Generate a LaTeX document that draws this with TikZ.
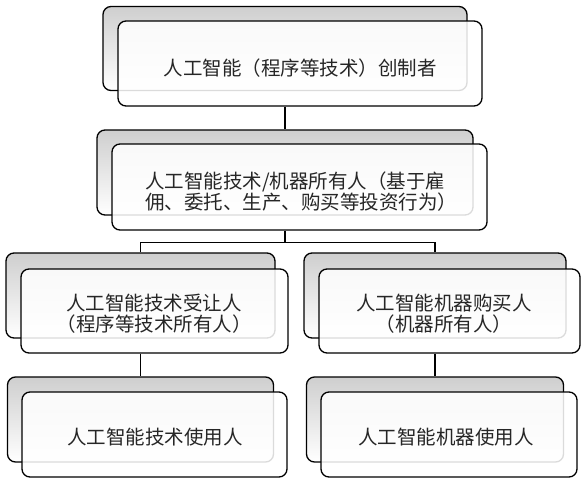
\documentclass[tikz,border=0pt]{standalone}
\usepackage{fontspec}
\setmainfont{Noto Sans CJK SC}
\begin{document}
\begin{tikzpicture}[x=1pt,y=-1pt,
  backbox/.style={draw=black, line width=1.3pt, rounded corners=8pt, top color=gray!38, bottom color=white, inner sep=0pt},
  frontbox/.style={draw=black, line width=1.3pt, rounded corners=8pt, fill=white, fill opacity=0.86, inner sep=0pt},
  lbl/.style={font=\fontsize{19.5}{21.5}\selectfont, text=black!85, align=center, inner sep=0pt},
  conn/.style={draw=black, line width=1.3pt}]
\useasboundingbox (0,0) rectangle (581,485);
% level 1
\node[backbox, minimum width=364pt, minimum height=84pt] (t0b) at (285,48.5) {};
\node[frontbox, minimum width=364pt, minimum height=85pt] (t0f) at (300,63.5) {};
\node[lbl] (t0t) at (300,68) {人工智能（程序等技术）创制者};
% level 2
\node[backbox, minimum width=376pt, minimum height=85pt] (l2b) at (285,172.5) {};
\node[frontbox, minimum width=375pt, minimum height=86pt] (l2f) at (299.5,187) {};
\node[lbl, align=left] (l2t) at (301,191.5) {人工智能技术/机器所有人（基于雇\\佣、委托、生产、购买等投资行为）};
% level 3
\node[backbox, minimum width=269pt, minimum height=85pt] (l3Lb) at (140.5,295.5) {};
\node[frontbox, minimum width=267pt, minimum height=84pt] (l3Lf) at (154.5,311) {};
\node[lbl] (l3Lt) at (154,313.5) {人工智能技术受让人\\（程序等技术所有人）};
\node[backbox, minimum width=262pt, minimum height=85pt] (l3Rb) at (435,295.5) {};
\node[frontbox, minimum width=261pt, minimum height=84pt] (l3Rf) at (449.5,311) {};
\node[lbl] (l3Rt) at (444,313.5) {人工智能机器购买人\\（机器所有人）};
% level 4
\node[backbox, minimum width=266pt, minimum height=85pt] (l4Lb) at (140.5,419.5) {};
\node[frontbox, minimum width=265pt, minimum height=85pt] (l4Lf) at (154.5,434.5) {};
\node[lbl] (l4Lt) at (155,437) {人工智能技术使用人};
\node[backbox, minimum width=257pt, minimum height=85pt] (l4Rb) at (435,419.5) {};
\node[frontbox, minimum width=256pt, minimum height=85pt] (l4Rf) at (449,434.5) {};
\node[lbl] (l4Rt) at (446,437) {人工智能机器使用人};
% connectors
\draw[conn] (l2b.north |- t0f.south) -- (l2b.north);
\draw[conn] (l2b.north |- l2f.south) -- ++(0,12) coordinate (hb);
\draw[conn] (l3Lb.north) |- (hb) -| (l3Rb.north);
\draw[conn] (l4Lb.north |- l3Lf.south) -- (l4Lb.north);
\draw[conn] (l4Rb.north |- l3Rf.south) -- (l4Rb.north);
\end{tikzpicture}
\end{document}
